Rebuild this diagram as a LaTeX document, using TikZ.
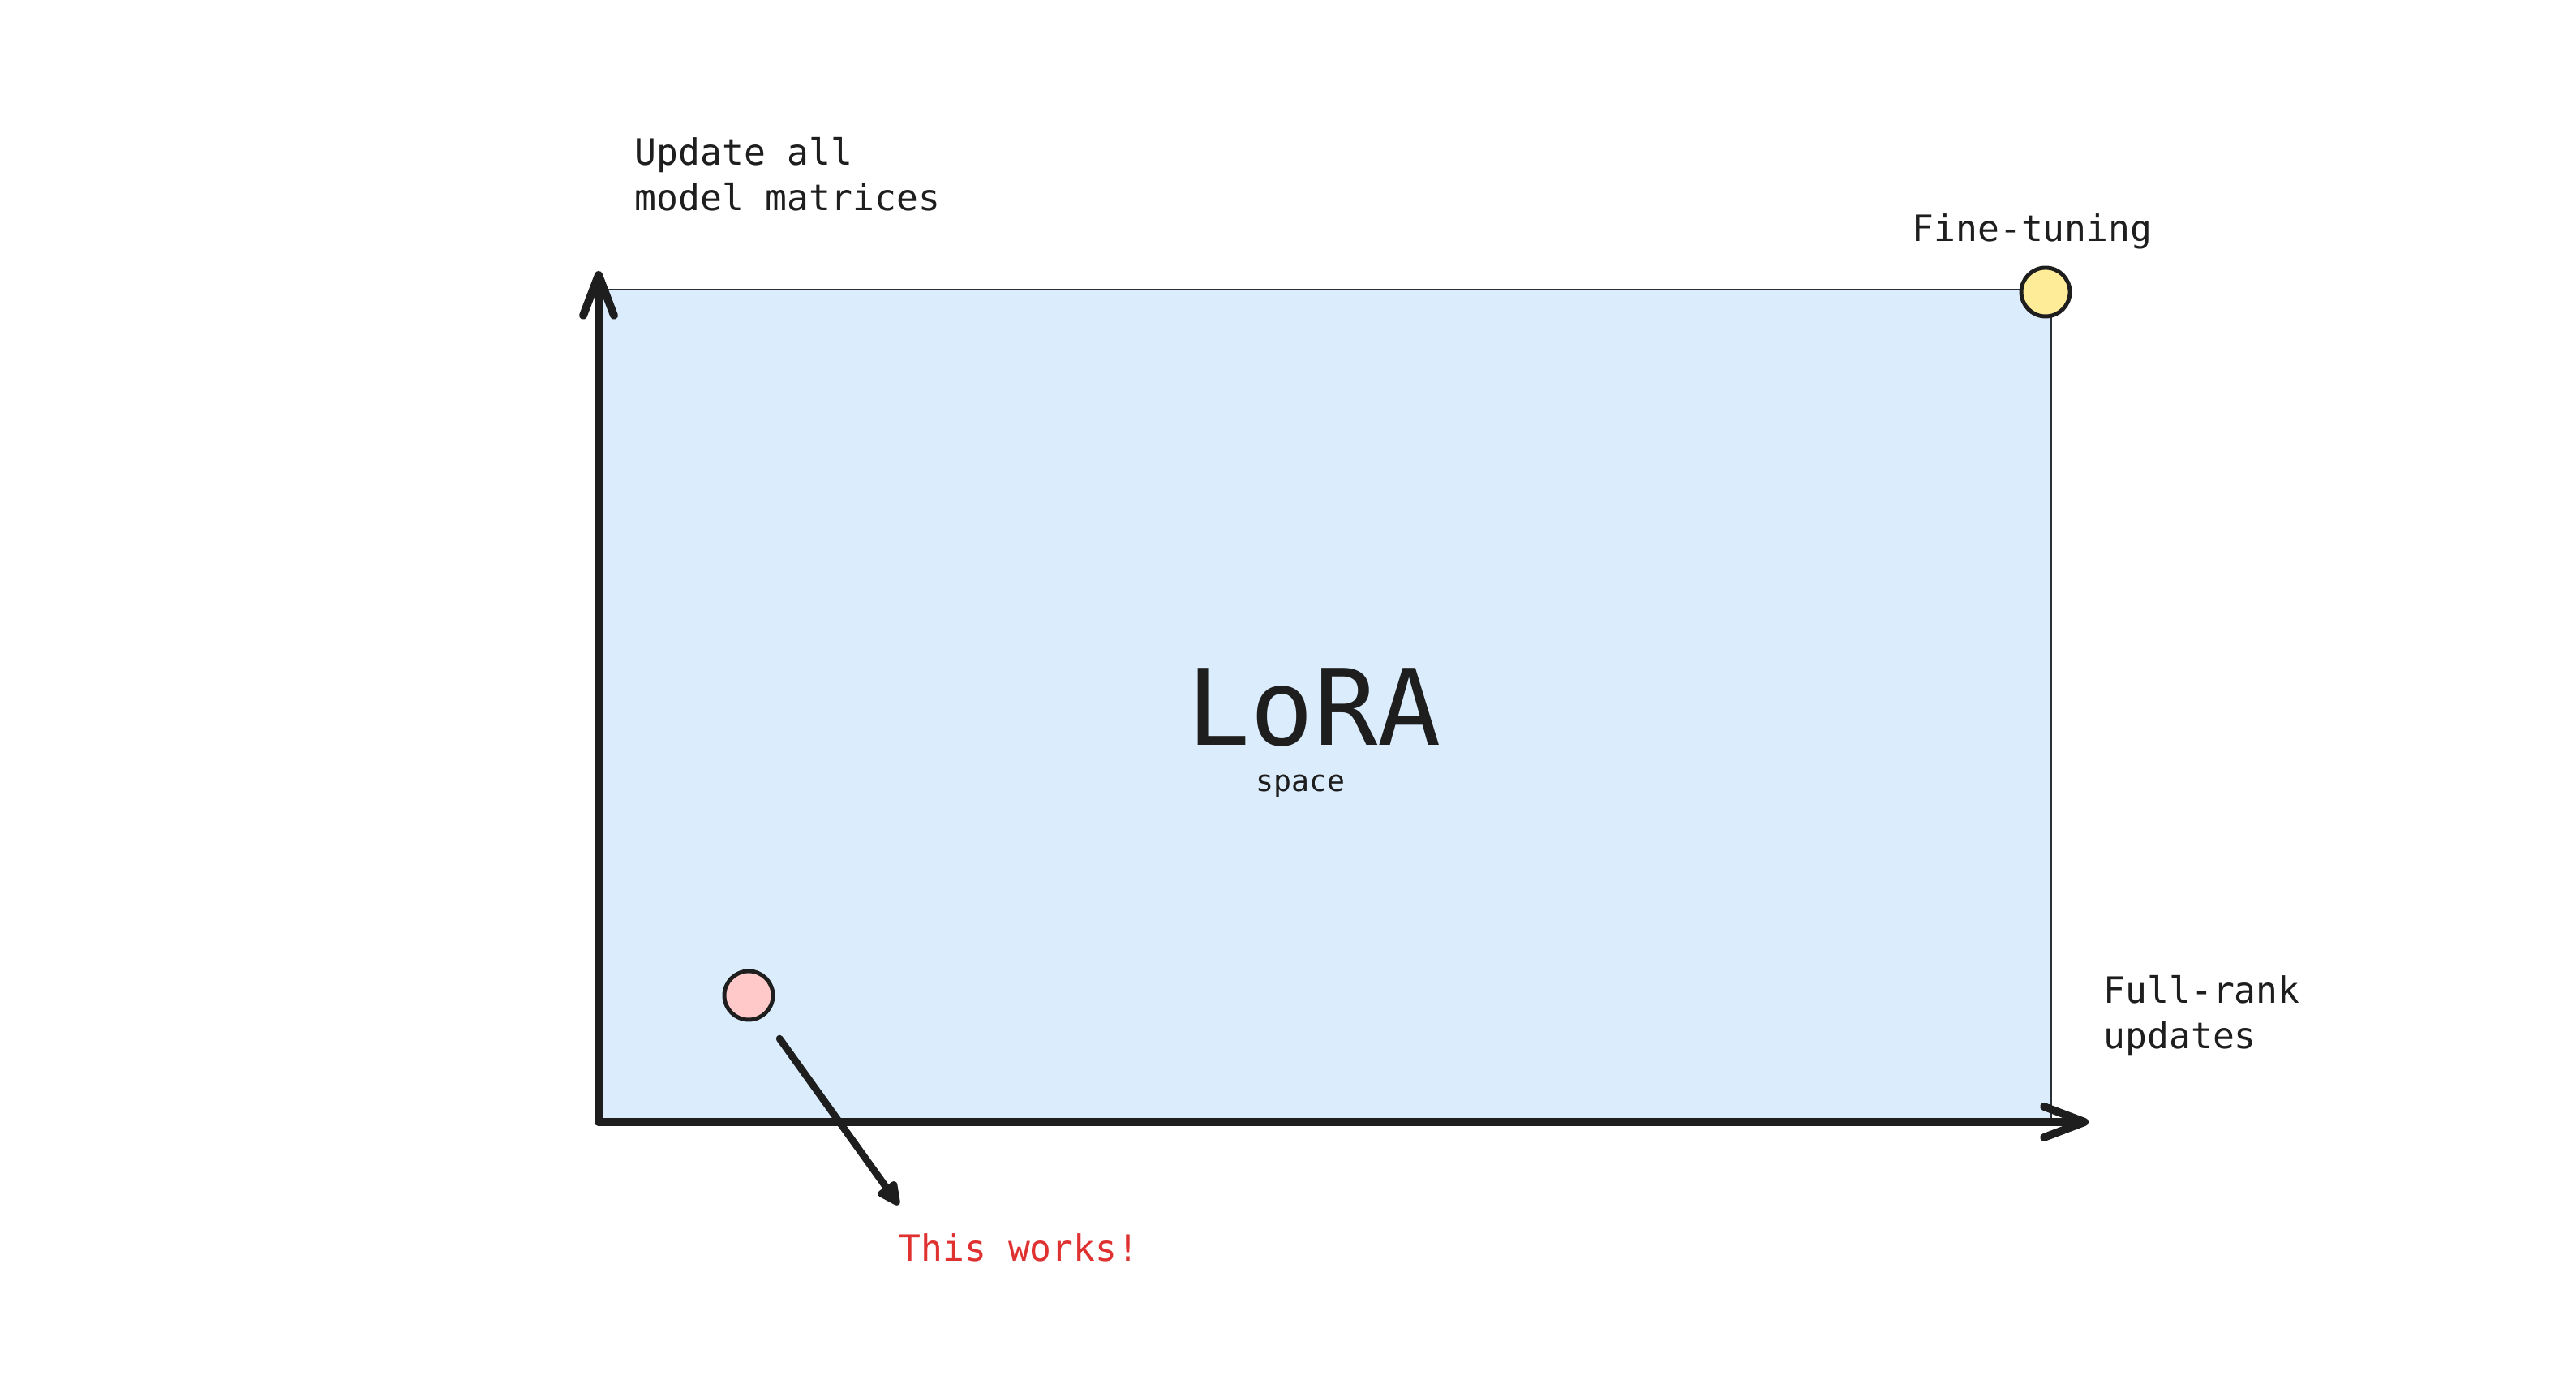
\documentclass[tikz,border=0pt]{standalone}
\usepackage{fontspec}
\newfontfamily\mono{DejaVu Sans Mono}
\usepackage{tkz-euclide}
\usetikzlibrary{arrows.meta}
\definecolor{ink}{HTML}{1E1E1E}
\definecolor{edge}{HTML}{2B3036}
\definecolor{spacefill}{HTML}{DBEDFD}
\definecolor{sunny}{HTML}{FFEC99}
\definecolor{blush}{HTML}{FFC9C9}
\definecolor{alert}{HTML}{E03131}

\begin{document}
\begin{tikzpicture}
\tikzset{
axis/.style={line width=2.8pt, color=ink, line cap=round,
  -{Straight Barb[length=5mm,width=3.8mm,round]}},
pointer/.style={line width=2.5pt, color=ink, line cap=round,
  -{Triangle[length=3.4mm,width=3mm,round]}},
dot/.style={circle, draw=ink, line width=1.4pt, minimum size=6mm, inner sep=0pt},
note/.style={font=\mono\fontsize{12.7}{16.2}\selectfont, text=ink,
  inner sep=0pt, anchor=base west, align=left}
}
\fill[white] (0,0) rectangle (31.76,17.01);
\useasboundingbox (0,0) rectangle (31.76,17.01);
\tkzDefPoints{7.38/3.18/O,7.38/13.67/Y,25.75/3.18/X,25.29/13.44/C}
\tkzDefPoints{11.08/2.16/T}

% the space itself
\draw[fill=spacefill, draw=edge, line width=0.6pt] (O) rectangle (C);
\tkzDrawSegment[axis](O,Y)
\tkzDrawSegment[axis](O,X)

\node[dot, fill=sunny] (ft) at (25.22,13.41) {};
\node[dot, fill=blush] (lr) at (9.23,4.74) {};
\draw[pointer, shorten <=3.3mm] (lr) -- (T);

\node[font=\mono\fontsize{37}{40}\selectfont, text=ink, inner sep=0pt, anchor=base]
  (lora) at (16.20,7.82) {LoRA};
\node[font=\mono\fontsize{10.4}{12}\selectfont, text=ink, inner sep=0pt, anchor=base]
  (space) at (16.03,7.25) {space};
% multi-line notes sit on their last baseline
\node[note] (upd) at (7.82,14.41) {Update all\\model matrices};
\node[note] (fine) at (23.57,14.03) {Fine-tuning};
\node[note] (rank) at (25.93,4.08) {Full-rank\\updates};
\node[note, text=alert] (works) at (11.08,1.46) {This works!};
\end{tikzpicture}
\end{document}
